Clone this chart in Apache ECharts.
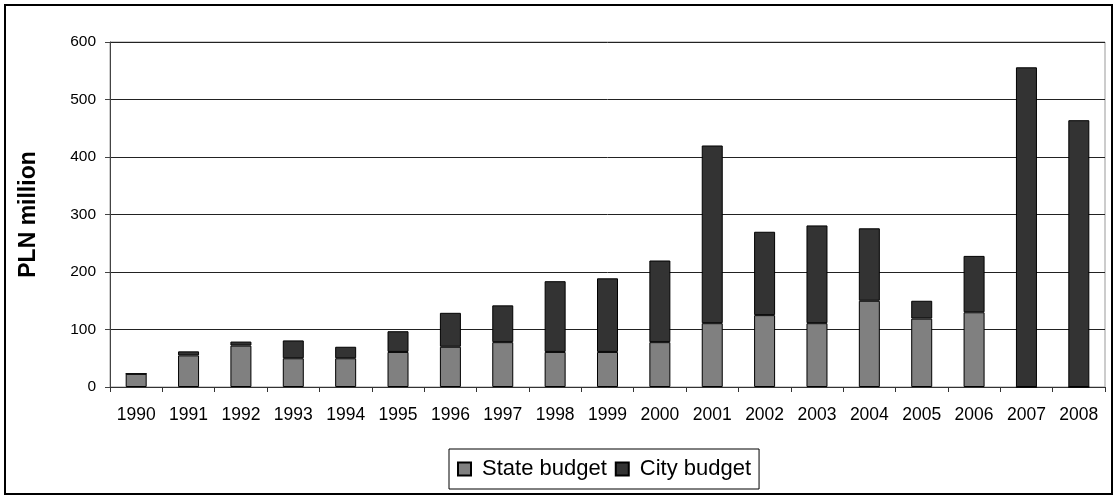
<!DOCTYPE html>
<html>
<head>
<meta charset="utf-8">
<script src="https://cdn.jsdelivr.net/npm/echarts@6/dist/echarts.min.js"></script>
<style>
html,body{margin:0;padding:0;background:#fff;}
#chart{width:1114px;height:496px;}
</style>
</head>
<body>
<div id="chart"></div>
<script>
const years = ['1990','1991','1992','1993','1994','1995','1996','1997','1998','1999','2000','2001','2002','2003','2004','2005','2006','2007','2008'];
const stateBudget = [23, 55, 72, 50, 50, 61, 70, 78, 61, 61, 78, 111, 125, 111, 150, 119, 130, 0, 0];
const cityBudget  = [0, 7, 7, 31, 20, 36, 59, 64, 123, 128, 142, 309, 145, 170, 126, 31, 98, 556, 464];
const yTicks = [0, 100, 200, 300, 400, 500, 600];

const chart = echarts.init(document.getElementById('chart'), null, {renderer: 'canvas'});
const font = '"Liberation Sans", Arial, sans-serif';
chart.setOption({
  animation: false,
  backgroundColor: '#fff',
  graphic: [{
    type: 'rect',
    shape: {x: 5, y: 5, width: 1107, height: 489},
    style: {fill: 'none', stroke: '#000', lineWidth: 2},
    silent: true, z: 100
  }],
  grid: {left: 110, right: 9, top: 42, bottom: 109, show: true, borderColor: '#999', borderWidth: 1, backgroundColor: '#fff'},
  legend: {
    left: 449, top: 449,
    orient: 'horizontal',
    padding: [9, 8, 9, 8],
    borderColor: '#000', borderWidth: 1,
    itemWidth: 13, itemHeight: 13, itemGap: 8,
    icon: 'rect',
    textStyle: {fontFamily: font, fontSize: 22, color: '#000', padding: [0, 0, 0, 6]},
    data: ['State budget', 'City budget']
  },
  xAxis: {
    type: 'category',
    data: years,
    boundaryGap: true,
    axisLine: {lineStyle: {color: '#333', width: 1}},
    axisTick: {show: true, length: 5, inside: false, alignWithLabel: false, lineStyle: {color: '#333'}},
    axisLabel: {fontFamily: font, fontSize: 17.5, color: '#000', margin: 19, interval: 0}
  },
  yAxis: {
    type: 'value',
    min: yTicks[0], max: yTicks[yTicks.length - 1], interval: 100,
    name: 'PLN million',
    nameLocation: 'middle',
    nameGap: 70,
    nameRotate: 90,
    nameTextStyle: {fontFamily: font, fontSize: 23, fontWeight: 'bold', color: '#000'},
    axisLine: {show: true, lineStyle: {color: '#444', width: 1}},
    axisTick: {show: true, length: 5, lineStyle: {color: '#444'}},
    axisLabel: {fontFamily: font, fontSize: 15.5, color: '#000', margin: 14},
    splitLine: {show: true, lineStyle: {color: '#222', width: 1}}
  },
  series: [
    {
      name: 'State budget', type: 'bar', stack: 'total', barWidth: 21,
      data: stateBudget,
      itemStyle: {color: '#808080', borderColor: '#000', borderWidth: 1}
    },
    {
      name: 'City budget', type: 'bar', stack: 'total', barWidth: 21,
      data: cityBudget,
      itemStyle: {color: '#333333', borderColor: '#000', borderWidth: 1}
    }
  ]
});
</script>
</body>
</html>
